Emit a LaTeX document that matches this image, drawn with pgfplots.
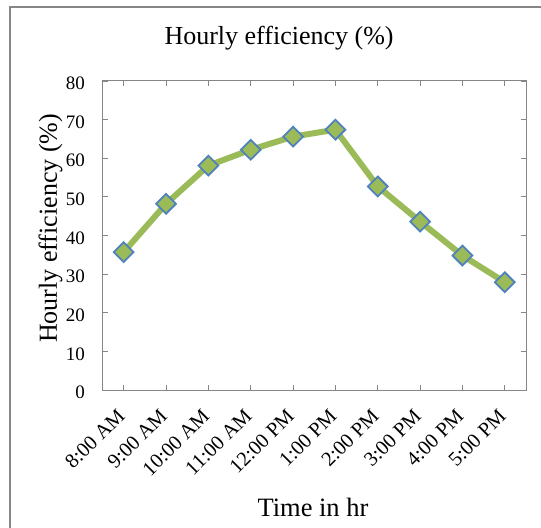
\documentclass[border=0pt]{standalone}
\usepackage{pgfplots}
\pgfplotsset{compat=1.18}
\usepackage{fontspec}
\setmainfont{Liberation Serif}
\definecolor{lgreen}{HTML}{9BBB59}
\definecolor{mblue}{HTML}{4F81BD}
\definecolor{axgray}{HTML}{868686}
\begin{document}
\begin{tikzpicture}
\path[use as bounding box] (0,0) rectangle (541bp,528bp);
\draw[axgray, line width=1.5bp] (10bp,0) -- (10bp,521bp) -- (541bp,521bp);
\begin{axis}[
  at={(102.5bp,138bp)}, anchor=south west,
  scale only axis, width=423.5bp, height=309bp,
  xmin=-0.5, xmax=9.5, ymin=0, ymax=80,
  xtick={0,...,9},
  xticklabels={8:00 AM,9:00 AM,10:00 AM,11:00 AM,12:00 PM,1:00 PM,2:00 PM,3:00 PM,4:00 PM,5:00 PM},
  ytick={0,10,...,80},
  tick align=inside, major tick length=5bp,
  axis line style={axgray, line width=1bp},
  every tick/.style={axgray, line width=0.8bp},
  /pgf/number format/assume math mode=true,
  yticklabel style={font=\fontsize{19bp}{21bp}\selectfont, xshift=-14bp, yshift=-2.5bp},
  xticklabel style={font=\fontsize{20.5bp}{22bp}\selectfont, xshift=0bp, yshift=-20bp, rotate=45, anchor=east},
  title={Hourly efficiency (\%)},
  title style={font=\fontsize{26bp}{28bp}\selectfont, at={(axis description cs:0.417,1.100)}, anchor=base},
  xlabel={Time in hr},
  xlabel style={font=\fontsize{26.5bp}{28bp}\selectfont, at={(axis description cs:0.497,-0.411)}, anchor=base},
  ylabel={Hourly efficiency (\%)},
  every axis y label/.style={font=\fontsize{26bp}{28bp}\selectfont, at={(axis description cs:-0.108,0.523)}, rotate=90, anchor=base},
]
\addplot[lgreen, line width=6bp, mark=square*, mark size=7bp,
  mark options={rotate=45, fill=lgreen, draw=mblue, line width=1.8bp}]
  coordinates {(0,35.7) (1,48.2) (2,58.1) (3,62.2) (4,65.6) (5,67.4) (6,52.7) (7,43.6) (8,34.8) (9,27.9)};
\end{axis}
\end{tikzpicture}
\end{document}
